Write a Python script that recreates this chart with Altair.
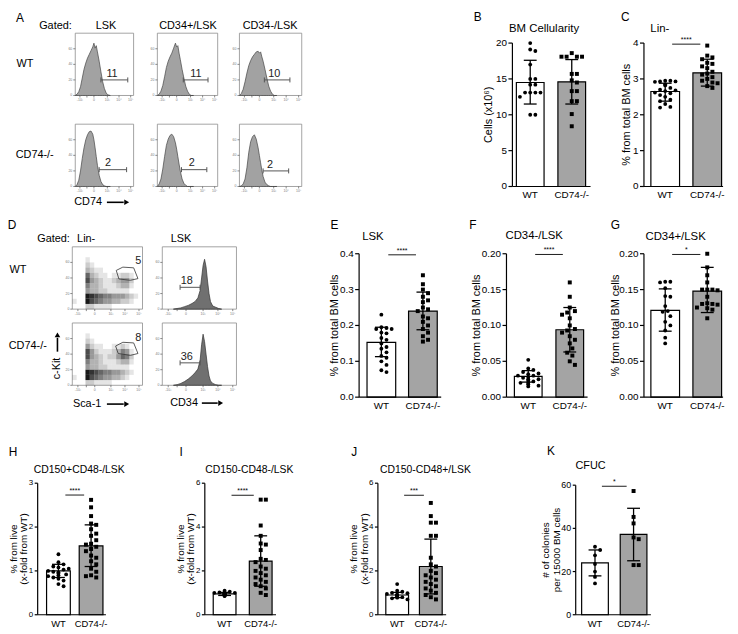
import altair as alt
import pandas as pd

FONT = "Liberation Sans"
M = 8            # page margin
CW, CH = 730, 626

# ------------------------------------------------------------------ data
GROUPS = ["WT", "CD74-/-"]

B_MEAN = [14.5, 14.6]
B_SD = [[11.5, 17.6], [11.5, 17.7]]
B_WT = [20.0, 19.1, 18.9, 17.0, 15.0, 15.0, 14.2, 14.2, 13.1, 13.1, 13.1, 13.1, 12.5, 10.0, 10.0]
B_KO = [18.6, 18.1, 18.1, 18.1, 18.1, 15.7, 15.7, 14.8, 14.5, 13.3, 13.3, 11.9, 11.9, 10.1, 8.4]

C_MEAN = [2.65, 3.17]
C_SD = [[2.38, 2.88], [2.8, 3.55]]
C_WT = [2.95, 2.95, 2.93, 2.93, 2.92, 2.85, 2.82, 2.75, 2.7, 2.68, 2.66, 2.62, 2.6, 2.55, 2.5, 2.42, 2.38, 2.3, 2.22, 2.2]
C_KO = [3.93, 3.65, 3.6, 3.55, 3.45, 3.42, 3.35, 3.3, 3.2, 3.15, 3.12, 3.05, 3.0, 2.95, 2.9, 2.88, 2.8, 2.75]

E_MEAN = [0.153, 0.24]
E_SD = [[0.113, 0.195], [0.188, 0.293]]
E_WT = [0.23, 0.195, 0.193, 0.19, 0.19, 0.18, 0.178, 0.165, 0.16, 0.15, 0.14, 0.135, 0.125, 0.115, 0.11, 0.1, 0.09, 0.075, 0.07]
E_KO = [0.34, 0.315, 0.3, 0.29, 0.28, 0.27, 0.265, 0.25, 0.245, 0.24, 0.225, 0.22, 0.21, 0.2, 0.19, 0.18, 0.17, 0.16, 0.155]

F_MEAN = [0.029, 0.094]
F_SD = [[0.021, 0.037], [0.063, 0.125]]
F_WT = [0.052, 0.04, 0.038, 0.035, 0.033, 0.032, 0.03, 0.03, 0.028, 0.027, 0.025, 0.025, 0.023, 0.022, 0.02, 0.02, 0.018, 0.016, 0.015]
F_KO = [0.16, 0.14, 0.125, 0.12, 0.118, 0.115, 0.11, 0.1, 0.095, 0.093, 0.09, 0.085, 0.08, 0.075, 0.068, 0.062, 0.058, 0.05, 0.045]

G_MEAN = [0.121, 0.148]
G_SD = [[0.092, 0.151], [0.118, 0.181]]
G_WT = [0.161, 0.161, 0.16, 0.152, 0.141, 0.14, 0.127, 0.12, 0.119, 0.113, 0.105, 0.1, 0.093, 0.083, 0.075]
G_KO = [0.2, 0.181, 0.17, 0.16, 0.15, 0.15, 0.15, 0.149, 0.14, 0.131, 0.13, 0.13, 0.129, 0.125, 0.124, 0.122, 0.11]

H_MEAN = [1.0, 1.57]
H_SD = [[0.85, 1.15], [1.1, 2.05]]
H_WT = [1.38, 1.2, 1.15, 1.1, 1.08, 1.05, 1.03, 1.0, 0.98, 0.96, 0.95, 0.92, 0.9, 0.88, 0.85, 0.82, 0.78, 0.7, 0.65]
H_KO = [2.62, 2.45, 2.25, 2.08, 2.05, 1.95, 1.85, 1.8, 1.7, 1.62, 1.6, 1.55, 1.5, 1.45, 1.35, 1.3, 1.22, 1.15, 1.05, 0.98, 0.9, 0.88, 0.85]

I_MEAN = [0.95, 2.45]
I_SD = [[0.88, 1.02], [1.3, 3.6]]
I_WT = [1.1, 1.05, 1.02, 1.0, 1.0, 0.98, 0.97, 0.95, 0.95, 0.93, 0.92, 0.9, 0.9, 0.88, 0.87, 0.85]
I_KO = [5.25, 5.25, 4.07, 3.6, 3.25, 3.2, 2.95, 2.55, 2.5, 2.4, 2.2, 2.1, 2.0, 1.9, 1.8, 1.7, 1.6, 1.5, 1.4, 1.3, 1.2, 1.0, 0.9]

J_MEAN = [0.9, 2.2]
J_SD = [[0.78, 1.02], [0.95, 3.45]]
J_WT = [1.4, 1.1, 1.05, 1.0, 0.98, 0.95, 0.92, 0.9, 0.88, 0.85, 0.82, 0.8, 0.78, 0.75, 0.7]
J_KO = [5.1, 4.5, 4.2, 4.2, 3.6, 3.6, 2.6, 2.3, 2.2, 2.0, 1.9, 1.8, 1.7, 1.6, 1.5, 1.4, 1.3, 1.2, 1.1, 1.0, 0.9, 0.8, 0.7]

K_MEAN = [24.0, 37.2]
K_SD = [[18.0, 30.0], [25.0, 49.3]]
K_WT = [31.5, 30.0, 27.5, 23.5, 20.0, 17.5, 14.5]
K_KO = [57.3, 45.3, 42.3, 35.8, 35.0, 23.0, 23.0]

# flow histograms (relative channel 0-100, relative count 0-100)
HX = [0, 3, 6, 9, 12, 15, 18, 21, 24, 27, 30, 32, 34, 36, 38, 41, 44, 47, 50, 53, 56, 60]
A_WT_LSK = [0, 2, 6, 14, 28, 42, 52, 60, 66, 72, 78, 84, 76, 80, 70, 55, 38, 22, 11, 4, 1, 0]
A_WT_34P = [0, 2, 7, 16, 30, 45, 55, 62, 68, 76, 84, 78, 80, 68, 58, 42, 28, 15, 7, 2, 0, 0]
A_WT_34N = [0, 3, 10, 22, 36, 48, 56, 62, 66, 70, 71, 68, 70, 62, 55, 42, 28, 15, 7, 2, 0, 0]
A_KO_LSK = [0, 3, 10, 25, 45, 62, 75, 83, 88, 89, 84, 75, 62, 48, 34, 18, 8, 3, 1, 0, 0, 0]
A_KO_34P = [0, 4, 12, 28, 48, 66, 76, 82, 84, 80, 70, 60, 48, 36, 25, 12, 5, 2, 0, 0, 0, 0]
A_KO_34N = [0, 1, 4, 12, 30, 55, 72, 80, 83, 76, 62, 50, 38, 26, 16, 7, 3, 1, 0, 0, 0, 0]
# gates: start, end, level, label, label x, label y
A_GATES = [[44, 90, 25, "11", 63, 35], [43, 84, 25, "11", 64, 35], [40, 81, 25, "10", 56, 35],
           [41, 88, 27, "2", 56, 37], [40, 82, 27, "2", 57, 37], [38, 79, 25, "2", 49, 35]]

DX = [15, 20, 25, 30, 35, 40, 44, 48, 51, 53, 55, 57, 59, 61, 63, 65, 68, 72, 76, 80]
D_WT_CD34 = [0, 1, 2, 4, 6, 9, 12, 18, 30, 50, 70, 80, 68, 45, 25, 12, 5, 3, 1, 0]
D_KO_CD34 = [0, 1, 3, 6, 10, 15, 20, 26, 40, 65, 82, 70, 50, 30, 15, 7, 3, 1, 0, 0]
D_GATES = [[24, 51, 35, "18", 33, 45], [24, 51, 36, "36", 33, 46]]

# Sca-1 / c-Kit dot plot densities (rows top -> bottom, 16 columns)
D_WT_DOTS = ["0000000000000000", "0000000000000000", "0001000000000000", "0002100000000000",
             "0003211000000000", "0006321101122100", "0007432112344200", "0005332111233100",
             "0004332211111000", "0009876554443210", "1009765443322100", "0002211110000000"]
D_KO_DOTS = ["0000000000000000", "0000000000000000", "0001000000000000", "0002100000000000",
             "0004211001121000", "0007421112354100", "0007432122465200", "0005332111233100",
             "0004332211111000", "0009876554432100", "1009765443321000", "0002211110000000"]
D_WT_GATE = [[62.6, 62.1], [72, 67.4], [87.4, 66.3], [93.5, 49], [82.7, 46.3], [66.4, 48.4], [62.6, 62.1]]
D_KO_GATE = [[61.7, 63], [72, 69], [87.4, 68], [93.5, 51], [82.7, 48], [65.4, 51], [61.7, 63]]
D_GATE_LABELS = [["5", 94, 77], ["8", 94, 76]]

FLOW_XTICKS = [8, 20, 32, 55, 75, 95]
FLOW_XTICK_LABELS = ["-10\u00b3", "", "0", "10\u00b3", "10\u2074", "10\u2075"]
FLOW_YTICKS = [0, 25, 50, 75]
FLOW_YTICK_LABELS = ["0", "20", "40", "60"]

# ------------------------------------------------------------------ layout (page px)
ROW12 = dict(ylab=10, xlab=10, tsize=11, lh=12, tick=4)
ROW3 = dict(ylab=8, xlab=9.5, tsize=10, lh=10.5, tick=3)
LAY = {
    "B": dict(axis_x=518, c0=536, c1=578, x_end=597, y0=185, ytop=40, bw=28, title_x=494, **ROW12),
    "C": dict(axis_x=651, c0=672.5, c1=715, x_end=731, y0=185, ytop=40, bw=29, title_x=634, **ROW12),
    "E": dict(axis_x=363, c0=385.5, c1=427.5, x_end=446, y0=398, ytop=253, bw=29, title_x=339, **ROW12),
    "F": dict(axis_x=512, c0=534, c1=576, x_end=594, y0=398, ytop=253, bw=28, title_x=482, **ROW12),
    "G": dict(axis_x=651, c0=672.5, c1=715, x_end=731, y0=398, ytop=253, bw=29, title_x=623, **ROW12),
    "H": dict(axis_x=38, c0=59, c1=92, x_end=107, y0=618, ytop=485, bw=24, title_x=14, **ROW3),
    "I": dict(axis_x=207, c0=227, c1=263.5, x_end=279, y0=618, ytop=485, bw=23, title_x=183, **ROW3),
    "J": dict(axis_x=382, c0=401.5, c1=435.5, x_end=451, y0=618, ytop=485, bw=23, title_x=358, **ROW3),
    "K": dict(axis_x=582, c0=601.5, c1=640.5, x_end=658, y0=618, ytop=487, bw=27, title_x=552,
              **dict(ROW3, ylab=9, lh=11.5)),
}


def P(v):
    return v - M


def swarm(values, ppu, step, diam=5.2, maxoff=11.0):
    placed, out = [], []
    for v in values:
        yp = v * ppu
        chosen = 0.0
        found = False
        for k in range(0, 14):
            cands = [0.0] if k == 0 else [k * diam * 0.5, -k * diam * 0.5]
            for c in cands:
                if abs(c) > maxoff:
                    continue
                if all((c - a) ** 2 + (yp - b) ** 2 >= diam ** 2 for a, b in placed):
                    chosen, found = c, True
                    break
            if found:
                break
        placed.append((chosen, yp))
        out.append(chosen / step)
    return out


def bar_panel(means, sds, wt, ko, ymax, ticks, fmt, ytitle, sig, sig_y, L):
    step = L["c1"] - L["c0"]

    def u(pxv):
        return (pxv - L["c0"]) / step

    dlo, dhi = u(L["axis_x"]), u(L["x_end"])
    sx = alt.Scale(domain=[dlo, dhi], range=[P(L["axis_x"]), P(L["x_end"])], nice=False, zero=False)
    sy = alt.Scale(domain=[0, ymax], range=[P(L["y0"]), P(L["ytop"])], nice=False, zero=False)

    def X(f):
        return alt.X(f, scale=sx, axis=None)

    def Y(f):
        return alt.Y(f, scale=sy, axis=None)

    half = L["bw"] / 2 / step
    bars = pd.DataFrame({"x0": [-half, 1 - half], "x1": [half, 1 + half], "m": means,
                         "base": [0, 0], "fill": ["white", "#a4a4a4"]})
    ppu = (L["y0"] - L["ytop"]) / ymax
    pts_wt = pd.DataFrame({"xi": [0 + d for d in swarm(wt, ppu, step)], "v": wt})
    pts_ko = pd.DataFrame({"xi": [1 + d for d in swarm(ko, ppu, step)], "v": ko})
    cap = 6.5 / step
    err = pd.DataFrame({"xi": [0, 1], "lo": [s[0] for s in sds], "hi": [s[1] for s in sds]})
    caps = pd.DataFrame({"a": [0 - cap, 0 - cap, 1 - cap, 1 - cap], "b": [cap, cap, 1 + cap, 1 + cap],
                         "v": [sds[0][0], sds[0][1], sds[1][0], sds[1][1]]})
    dom = pd.DataFrame({"a": [dlo], "b": [dhi], "z": [0], "t": [ymax]})
    tk = pd.DataFrame({"a": [dlo] * len(ticks), "v": ticks, "lab": [format(t, fmt) for t in ticks]})
    xl = pd.DataFrame({"i": [0, 1], "z": [0, 0], "lab": GROUPS})
    tt = pd.DataFrame({"x": [u(L["title_x"])], "y": [ymax / 2],
                       "lab": ["\n".join(ytitle) if isinstance(ytitle, list) else ytitle]})

    layers = [
        alt.Chart(bars).mark_bar(stroke="black", strokeWidth=1.2).encode(
            x=X("x0:Q"), x2="x1:Q", y=Y("m:Q"), y2="base:Q", fill=alt.Fill("fill:N", scale=None)),
        alt.Chart(pts_wt).mark_point(shape="circle", filled=True, color="black", size=15, opacity=1).encode(
            x=X("xi:Q"), y=Y("v:Q")),
        alt.Chart(pts_ko).mark_point(shape="square", filled=True, color="black", size=16, opacity=1).encode(
            x=X("xi:Q"), y=Y("v:Q")),
        alt.Chart(err).mark_rule(color="black", strokeWidth=1.3).encode(x=X("xi:Q"), y=Y("lo:Q"), y2="hi:Q"),
        alt.Chart(caps).mark_rule(color="black", strokeWidth=1.3).encode(x=X("a:Q"), x2="b:Q", y=Y("v:Q")),
        # axes
        alt.Chart(dom).mark_rule(color="black", strokeWidth=1.2).encode(x=X("a:Q"), y=Y("z:Q"), y2="t:Q"),
        alt.Chart(dom).mark_rule(color="black", strokeWidth=1.2).encode(x=X("a:Q"), x2="b:Q", y=Y("z:Q")),
        alt.Chart(tk).mark_rule(color="black", strokeWidth=1.2, x2Offset=-L["tick"]).encode(
            x=X("a:Q"), x2="a:Q", y=Y("v:Q")),
        alt.Chart(tk).mark_text(font=FONT, fontSize=L["ylab"], align="right", baseline="middle",
                                dx=-(L["tick"] + 1.5), color="black").encode(
            x=X("a:Q"), y=Y("v:Q"), text="lab:N"),
        alt.Chart(xl).mark_text(font=FONT, fontSize=L["xlab"], align="center", baseline="top", dy=4, color="black").encode(
            x=X("i:Q"), y=Y("z:Q"), text="lab:N"),
        alt.Chart(tt).mark_text(font=FONT, fontSize=L["tsize"], align="center", baseline="middle", angle=270,
                                lineBreak="\n", lineHeight=L["lh"], color="black").encode(
            x=X("x:Q"), y=Y("y:Q"), text="lab:N"),
    ]
    if sig:
        off = 7 / step
        sigdf = pd.DataFrame({"a": [off], "b": [1 - off], "m": [0.5], "v": [sig_y], "t": [sig]})
        layers += [
            alt.Chart(sigdf).mark_rule(color="black", strokeWidth=0.9).encode(x=X("a:Q"), x2="b:Q", y=Y("v:Q")),
            alt.Chart(sigdf).mark_text(font=FONT, fontSize=7, dy=-4, color="black").encode(
                x=X("m:Q"), y=Y("v:Q"), text="t:N"),
        ]
    return alt.layer(*layers)


def flow_base(x0, x1, ytop, ybot):
    sx = alt.Scale(domain=[0, 100], range=[P(x0), P(x1)], nice=False, zero=False)
    sy = alt.Scale(domain=[0, 100], range=[P(ybot), P(ytop)], nice=False, zero=False)
    box = pd.DataFrame({"a": [0], "b": [100]})
    xt = pd.DataFrame({"v": FLOW_XTICKS, "z": [0] * len(FLOW_XTICKS), "lab": FLOW_XTICK_LABELS})
    yt = pd.DataFrame({"v": FLOW_YTICKS, "z": [0] * len(FLOW_YTICKS), "lab": FLOW_YTICK_LABELS})
    layers = [
        alt.Chart(box).mark_rect(filled=False, stroke="#8c8c8c", strokeWidth=0.8).encode(
            x=alt.X("a:Q", scale=sx, axis=None), x2="b:Q", y=alt.Y("a:Q", scale=sy, axis=None), y2="b:Q"),
        alt.Chart(xt).mark_rule(color="#555", strokeWidth=0.7, y2Offset=2).encode(
            x=alt.X("v:Q", scale=sx, axis=None), y=alt.Y("z:Q", scale=sy, axis=None), y2="z:Q"),
        alt.Chart(yt).mark_rule(color="#555", strokeWidth=0.7, x2Offset=-2).encode(
            x=alt.X("z:Q", scale=sx, axis=None), x2="z:Q", y=alt.Y("v:Q", scale=sy, axis=None)),
        alt.Chart(xt).mark_text(font=FONT, fontSize=3.5, color="#777", baseline="top", dy=3).encode(
            x=alt.X("v:Q", scale=sx, axis=None), y=alt.Y("z:Q", scale=sy, axis=None), text="lab:N"),
        alt.Chart(yt).mark_text(font=FONT, fontSize=3.5, color="#777", align="right", baseline="middle", dx=-3).encode(
            x=alt.X("z:Q", scale=sx, axis=None), y=alt.Y("v:Q", scale=sy, axis=None), text="lab:N"),
    ]
    return sx, sy, layers


def gate_layers(sx, sy, g, fs=11):
    g0, g1, gy, lab, lx, ly = g
    line = pd.DataFrame({"a": [g0], "b": [g1], "y": [gy]})
    capd = pd.DataFrame({"x": [g0, g1], "lo": [gy - 4, gy - 4], "hi": [gy + 4, gy + 4]})
    labd = pd.DataFrame({"x": [lx], "y": [ly], "t": [lab]})
    return [
        alt.Chart(line).mark_rule(color="#555", strokeWidth=1).encode(
            x=alt.X("a:Q", scale=sx, axis=None), x2="b:Q", y=alt.Y("y:Q", scale=sy, axis=None)),
        alt.Chart(capd).mark_rule(color="#555", strokeWidth=1).encode(
            x=alt.X("x:Q", scale=sx, axis=None), y=alt.Y("lo:Q", scale=sy, axis=None), y2="hi:Q"),
        alt.Chart(labd).mark_text(font=FONT, fontSize=fs, color="#222").encode(
            x=alt.X("x:Q", scale=sx, axis=None), y=alt.Y("y:Q", scale=sy, axis=None), text="t:N"),
    ]


def hist_panel(xs, ys, box, gate, fill, stroke):
    sx, sy, base = flow_base(*box)
    df = pd.DataFrame({"x": xs, "y": ys})
    area = alt.Chart(df).mark_area(fill=fill, stroke=stroke, strokeWidth=0.7, interpolate="linear").encode(
        x=alt.X("x:Q", scale=sx, axis=None), y=alt.Y("y:Q", scale=sy, axis=None))
    return alt.layer(*base, area, *gate_layers(sx, sy, gate))


def dots_panel(rows, poly, lab, box):
    sx, sy, base = flow_base(*box)
    nr, nc = len(rows), len(rows[0])
    recs = []
    for r, row in enumerate(rows):
        for c, ch in enumerate(row):
            d = int(ch)
            if d == 0:
                continue
            recs.append({"xa": c * 100 / nc, "xb": (c + 1) * 100 / nc,
                         "ya": 100 - (r + 1) * 100 / nr, "yb": 100 - r * 100 / nr, "op": d / 9 * 0.9})
    cells = pd.DataFrame(recs)
    pdf = pd.DataFrame({"x": [p[0] for p in poly], "y": [p[1] for p in poly], "o": list(range(len(poly)))})
    ldf = pd.DataFrame({"x": [lab[1]], "y": [lab[2]], "t": [lab[0]]})
    return alt.layer(
        *base,
        alt.Chart(cells).mark_rect(color="#000").encode(
            x=alt.X("xa:Q", scale=sx, axis=None), x2="xb:Q",
            y=alt.Y("ya:Q", scale=sy, axis=None), y2="yb:Q",
            opacity=alt.Opacity("op:Q", scale=None)),
        alt.Chart(pdf).mark_line(color="#333", strokeWidth=0.8).encode(
            x=alt.X("x:Q", scale=sx, axis=None), y=alt.Y("y:Q", scale=sy, axis=None), order="o:Q"),
        alt.Chart(ldf).mark_text(font=FONT, fontSize=11, color="#222").encode(
            x=alt.X("x:Q", scale=sx, axis=None), y=alt.Y("y:Q", scale=sy, axis=None), text="t:N"),
    )


# ------------------------------------------------------------------ build
layers = []

A_COLS = [(76, 135), (159, 220), (242, 305)]
A_ROWS = [(30, 93), (122, 185)]
A_HISTS = [A_WT_LSK, A_WT_34P, A_WT_34N, A_KO_LSK, A_KO_34P, A_KO_34N]
for i, h in enumerate(A_HISTS):
    r, c = divmod(i, 3)
    box = (A_COLS[c][0], A_COLS[c][1], A_ROWS[r][0], A_ROWS[r][1])
    layers.append(hist_panel(HX, h, box, A_GATES[i], "#a2a2a2", "#444"))

layers.append(dots_panel(D_WT_DOTS, D_WT_GATE, D_GATE_LABELS[0], (73, 144, 246, 309)))
layers.append(dots_panel(D_KO_DOTS, D_KO_GATE, D_GATE_LABELS[1], (73, 144, 323, 386)))
layers.append(hist_panel(DX, D_WT_CD34, (164, 239, 246, 309), D_GATES[0], "#707070", "#333"))
layers.append(hist_panel(DX, D_KO_CD34, (164, 239, 323, 386), D_GATES[1], "#707070", "#333"))

BM = "% from total BM cells"
LIVE = ["% from live", "(x-fold from WT)"]
layers.append(bar_panel(B_MEAN, B_SD, B_WT, B_KO, 20, [0, 5, 10, 15, 20], "d", "Cells (x10\u2076)", "", 0, LAY["B"]))
layers.append(bar_panel(C_MEAN, C_SD, C_WT, C_KO, 4, [0, 1, 2, 3, 4], "d", BM, "****", 3.97, LAY["C"]))
layers.append(bar_panel(E_MEAN, E_SD, E_WT, E_KO, 0.4, [0, 0.1, 0.2, 0.3, 0.4], ".1f", BM, "****", 0.397, LAY["E"]))
layers.append(bar_panel(F_MEAN, F_SD, F_WT, F_KO, 0.2, [0, 0.05, 0.1, 0.15, 0.2], ".2f", BM, "****", 0.199, LAY["F"]))
layers.append(bar_panel(G_MEAN, G_SD, G_WT, G_KO, 0.2, [0, 0.05, 0.1, 0.15, 0.2], ".2f", BM, "*", 0.199, LAY["G"]))
layers.append(bar_panel(H_MEAN, H_SD, H_WT, H_KO, 3, [0, 1, 2, 3], "d", LIVE, "****", 2.73, LAY["H"]))
layers.append(bar_panel(I_MEAN, I_SD, I_WT, I_KO, 6, [0, 2, 4, 6], "d", LIVE, "****", 5.45, LAY["I"]))
layers.append(bar_panel(J_MEAN, J_SD, J_WT, J_KO, 6, [0, 2, 4, 6], "d", LIVE, "***", 5.45, LAY["J"]))
layers.append(bar_panel(K_MEAN, K_SD, K_WT, K_KO, 60, [0, 20, 40, 60], "d", ["# of colonies", "per 15000 BM cells"], "*", 59.5, LAY["K"]))

# text annotations (page px)
TEXTS = [
    ("A", 20, 15, 12, 0), ("B", 483, 14, 12, 0), ("C", 632, 14, 12, 0), ("D", 12, 224, 12, 0),
    ("E", 338, 224, 12, 0), ("F", 478, 224, 12, 0), ("G", 622, 224, 12, 0), ("H", 13, 453, 12, 0),
    ("I", 183, 453, 12, 0), ("J", 358, 453, 12, 0), ("K", 557, 452, 12, 0),
    ("BM Cellularity", 550, 26, 11.5, 0), ("Lin-", 667, 26, 11.5, 0), ("LSK", 377, 236, 11.5, 0),
    ("CD34-/LSK", 540, 235, 11.5, 0), ("CD34+/LSK", 683, 236, 11.5, 0),
    ("CD150+CD48-/LSK", 80, 472, 10.5, 0), ("CD150-CD48-/LSK", 252, 472, 10.5, 0),
    ("CD150-CD48+/LSK", 430, 472, 10.5, 0), ("CFUC", 597, 468, 11, 0),
    ("Gated:", 56, 23, 11, 0), ("LSK", 107, 23, 11, 0), ("CD34+/LSK", 190, 23, 11, 0),
    ("CD34-/LSK", 273, 23, 11, 0), ("WT", 25, 61, 11, 0), ("CD74-/-", 35, 153, 11, 0),
    ("CD74", 89, 201, 11, 0),
    ("Gated:", 54, 238, 11, 0), ("Lin-", 87, 238, 11, 0), ("LSK", 183, 238, 11, 0),
    ("WT", 18, 269, 11, 0), ("CD74-/-", 28, 346, 11, 0), ("Sca-1", 88, 405, 11, 0),
    ("CD34", 186, 404, 11, 0), ("c-Kit", 58, 369, 11, 270),
]
tdf = pd.DataFrame({"t": [t[0] for t in TEXTS], "x": [P(t[1]) for t in TEXTS], "y": [P(t[2]) for t in TEXTS],
                    "s": [t[3] for t in TEXTS], "a": [t[4] for t in TEXTS]})
layers.append(alt.Chart(tdf).mark_text(font=FONT, color="black", baseline="middle", align="center").encode(
    x=alt.X("x:Q", scale=None, axis=None), y=alt.Y("y:Q", scale=None, axis=None), text="t:N",
    size=alt.Size("s:Q", scale=None), angle=alt.Angle("a:Q", scale=None)))

ARROWS = [(108, 125, 201, 201), (108, 125, 405, 405), (204, 220, 404, 404), (58, 58, 352, 338)]
adf = pd.DataFrame({"x": [P(a[0]) for a in ARROWS], "x2": [P(a[1]) for a in ARROWS],
                    "y": [P(a[2]) for a in ARROWS], "y2": [P(a[3]) for a in ARROWS]})
layers.append(alt.Chart(adf).mark_rule(color="black", strokeWidth=1.6).encode(
    x=alt.X("x:Q", scale=None, axis=None), x2="x2:Q", y=alt.Y("y:Q", scale=None, axis=None), y2="y2:Q"))
HEADS = [(128, 201, "triangle-right"), (128, 405, "triangle-right"), (223, 404, "triangle-right"), (58, 335, "triangle-up")]
hdf = pd.DataFrame({"x": [P(h[0]) for h in HEADS], "y": [P(h[1]) for h in HEADS], "sh": [h[2] for h in HEADS]})
layers.append(alt.Chart(hdf).mark_point(filled=True, color="black", size=32, opacity=1).encode(
    x=alt.X("x:Q", scale=None, axis=None), y=alt.Y("y:Q", scale=None, axis=None),
    shape=alt.Shape("sh:N", scale=None)))

chart = alt.layer(*layers).resolve_scale(x="independent", y="independent").properties(
    width=CW, height=CH, autosize=alt.AutoSizeParams(type="none"), padding=0
).configure_view(stroke=None)

chart.save("out.html", embed_options={"renderer": "svg", "actions": False})
